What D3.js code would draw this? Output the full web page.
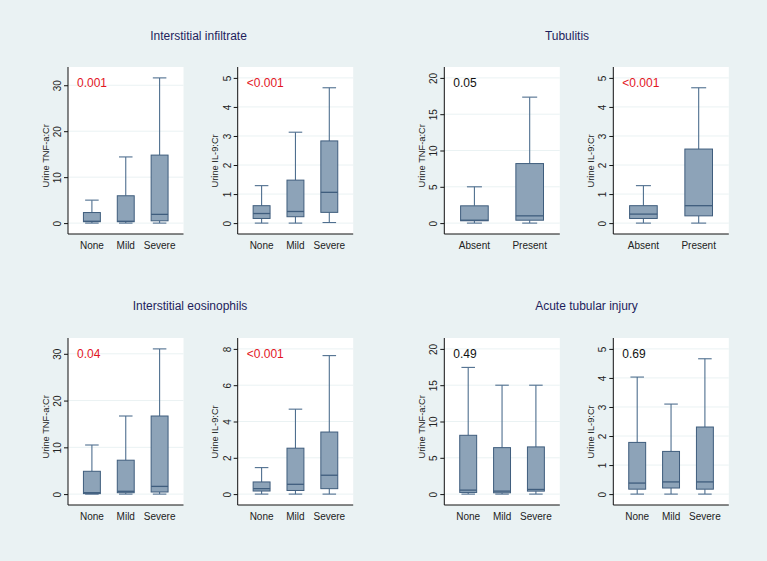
<!DOCTYPE html>
<html>
<head>
<meta charset="utf-8">
<script src="https://cdn.jsdelivr.net/npm/d3@7"></script>
<style>
  html, body { margin: 0; padding: 0; background: #eaf2f3; }
  svg { display: block; font-family: "Liberation Sans", Arial, sans-serif; }
</style>
</head>
<body>
<svg id="chart" width="767" height="561"></svg>
<script>
// ---------------- DATA ----------------
const panelTitles = ["Interstitial infiltrate", "Tubulitis", "Interstitial eosinophils", "Acute tubular injury"];
const severityGroups = ["None", "Mild", "Severe"];
const presenceGroups = ["Absent", "Present"];
const measureLabels = ["Urine TNF-a:Cr", "Urine IL-9:Cr"];

const ticksTnf30 = [0, 10, 20, 30];
const ticksTnf20 = [0, 5, 10, 15, 20];
const ticksIl9_5 = [0, 1, 2, 3, 4, 5];
const ticksIl9_8 = [0, 2, 4, 6, 8];

const pValues = ["0.001", "<0.001", "0.05", "<0.001", "0.04", "<0.001", "0.49", "0.69"];

// Interstitial infiltrate – TNF-a
const infTnfLow  = [0, 0, 0];
const infTnfQ1   = [0.3, 0.3, 0.5];
const infTnfMed  = [0.4, 0.4, 1.9];
const infTnfQ3   = [2.3, 5.95, 14.8];
const infTnfHigh = [5.0, 14.4, 31.6];
// Interstitial infiltrate – IL-9
const infIl9Low  = [0, 0, 0.02];
const infIl9Q1   = [0.16, 0.22, 0.37];
const infIl9Med  = [0.33, 0.40, 1.06];
const infIl9Q3   = [0.60, 1.48, 2.83];
const infIl9High = [1.29, 3.13, 4.66];
// Tubulitis – TNF-a
const tubTnfLow  = [0, 0];
const tubTnfQ1   = [0.32, 0.4];
const tubTnfMed  = [0.4, 1.0];
const tubTnfQ3   = [2.38, 8.2];
const tubTnfHigh = [5.0, 17.35];
// Tubulitis – IL-9
const tubIl9Low  = [0, 0];
const tubIl9Q1   = [0.16, 0.25];
const tubIl9Med  = [0.31, 0.6];
const tubIl9Q3   = [0.6, 2.55];
const tubIl9High = [1.29, 4.66];
// Interstitial eosinophils – TNF-a
const eosTnfLow  = [0, 0, 0];
const eosTnfQ1   = [0.1, 0.3, 0.45];
const eosTnfMed  = [0.3, 0.6, 1.65];
const eosTnfQ3   = [4.88, 7.25, 16.7];
const eosTnfHigh = [10.5, 16.7, 31.05];
// Interstitial eosinophils – IL-9
const eosIl9Low  = [0, 0, 0];
const eosIl9Q1   = [0.17, 0.2, 0.3];
const eosIl9Med  = [0.3, 0.54, 1.04];
const eosIl9Q3   = [0.67, 2.53, 3.42];
const eosIl9High = [1.46, 4.68, 7.63];
// Acute tubular injury – TNF-a
const atiTnfLow  = [0, 0, 0];
const atiTnfQ1   = [0.23, 0.18, 0.41];
const atiTnfMed  = [0.55, 0.41, 0.64];
const atiTnfQ3   = [8.1, 6.4, 6.5];
const atiTnfHigh = [17.45, 15.0, 15.0];
// Acute tubular injury – IL-9
const atiIl9Low  = [0, 0, 0];
const atiIl9Q1   = [0.17, 0.21, 0.17];
const atiIl9Med  = [0.38, 0.42, 0.42];
const atiIl9Q3   = [1.78, 1.47, 2.31];
const atiIl9High = [4.03, 3.1, 4.66];

// ---------------- BUILD ----------------
function stats(groups, lo, q1, med, q3, hi) {
  return groups.map((g, i) => ({ group: g, lo: lo[i], q1: q1[i], med: med[i], q3: q3[i], hi: hi[i] }));
}
const panels = [
  { groups: severityGroups, measure: measureLabels[0], ticks: ticksTnf30, p: pValues[0], data: stats(severityGroups, infTnfLow, infTnfQ1, infTnfMed, infTnfQ3, infTnfHigh) },
  { groups: severityGroups, measure: measureLabels[1], ticks: ticksIl9_5, p: pValues[1], data: stats(severityGroups, infIl9Low, infIl9Q1, infIl9Med, infIl9Q3, infIl9High) },
  { groups: presenceGroups, measure: measureLabels[0], ticks: ticksTnf20, p: pValues[2], data: stats(presenceGroups, tubTnfLow, tubTnfQ1, tubTnfMed, tubTnfQ3, tubTnfHigh) },
  { groups: presenceGroups, measure: measureLabels[1], ticks: ticksIl9_5, p: pValues[3], data: stats(presenceGroups, tubIl9Low, tubIl9Q1, tubIl9Med, tubIl9Q3, tubIl9High) },
  { groups: severityGroups, measure: measureLabels[0], ticks: ticksTnf30, p: pValues[4], data: stats(severityGroups, eosTnfLow, eosTnfQ1, eosTnfMed, eosTnfQ3, eosTnfHigh) },
  { groups: severityGroups, measure: measureLabels[1], ticks: ticksIl9_8, p: pValues[5], data: stats(severityGroups, eosIl9Low, eosIl9Q1, eosIl9Med, eosIl9Q3, eosIl9High) },
  { groups: severityGroups, measure: measureLabels[0], ticks: ticksTnf20, p: pValues[6], data: stats(severityGroups, atiTnfLow, atiTnfQ1, atiTnfMed, atiTnfQ3, atiTnfHigh) },
  { groups: severityGroups, measure: measureLabels[1], ticks: ticksIl9_5, p: pValues[7], data: stats(severityGroups, atiIl9Low, atiIl9Q1, atiIl9Med, atiIl9Q3, atiIl9High) },
];

const svg = d3.select("#chart");
svg.append("rect").attr("width", 767).attr("height", 561).attr("fill", "#eaf2f3");

const colLefts = [68, 237.7, 444.3, 613.3];
const rowTops = [67, 338];
const plotW = 115.5, plotH = 167;
const titlePos = [[198.5, 40], [567, 40], [190, 310], [586.5, 310]];

const BOX_FILL = "#8da3b8", BOX_STROKE = "#3f5d7d", WHISK = "#4f6f8f";

panelTitles.forEach((t, i) => {
  svg.append("text").attr("x", titlePos[i][0]).attr("y", titlePos[i][1])
    .attr("text-anchor", "middle").attr("font-size", 12).attr("fill", "#1e1e5c").text(t);
});

panels.forEach((pn, idx) => {
  const row = Math.floor(idx / 4), col = idx % 4;
  const left = colLefts[col], top = rowTops[row];
  const g = svg.append("g").attr("transform", `translate(${left},${top})`);

  const hiVal = Math.max(d3.max(pn.ticks), d3.max(pn.data, d => d.hi));
  const loVal = Math.min(0, d3.min(pn.data, d => d.lo));
  const span = hiVal - loVal;
  const y = d3.scaleLinear().domain([loVal - 0.075 * span, hiVal + 0.075 * span]).range([plotH, 0]);
  const n = pn.groups.length;
  const x = d3.scaleBand().domain(pn.groups).range([0, plotW])
    .paddingInner(0.5).paddingOuter(n === 3 ? 0.456 : 0.295);

  // plot region
  g.append("rect").attr("width", plotW).attr("height", plotH).attr("fill", "#ffffff");
  // grid
  g.selectAll(".grid").data(pn.ticks).join("line")
    .attr("x1", 0).attr("x2", plotW).attr("y1", d => y(d)).attr("y2", d => y(d))
    .attr("stroke", "#eaf2f3").attr("stroke-width", 1);

  // boxes
  const bw = x.bandwidth();
  const cap = Math.min(bw * 0.8, 15);
  const bg = g.selectAll(".box").data(pn.data).join("g")
    .attr("transform", d => `translate(${x(d.group) + bw / 2},0)`);
  bg.append("line").attr("x1", 0).attr("x2", 0).attr("y1", d => y(d.q3)).attr("y2", d => y(d.hi))
    .attr("stroke", WHISK).attr("stroke-width", 1.1);
  bg.append("line").attr("x1", 0).attr("x2", 0).attr("y1", d => y(d.q1)).attr("y2", d => y(d.lo))
    .attr("stroke", WHISK).attr("stroke-width", 1.1);
  bg.append("line").attr("x1", -cap / 2).attr("x2", cap / 2).attr("y1", d => y(d.hi)).attr("y2", d => y(d.hi))
    .attr("stroke", WHISK).attr("stroke-width", 1.1);
  bg.append("line").attr("x1", -cap / 2).attr("x2", cap / 2).attr("y1", d => y(d.lo)).attr("y2", d => y(d.lo))
    .attr("stroke", WHISK).attr("stroke-width", 1.1);
  bg.append("rect").attr("x", -bw / 2).attr("width", bw)
    .attr("y", d => y(d.q3)).attr("height", d => y(d.q1) - y(d.q3))
    .attr("fill", BOX_FILL).attr("stroke", BOX_STROKE).attr("stroke-width", 1);
  bg.append("line").attr("x1", -bw / 2).attr("x2", bw / 2).attr("y1", d => y(d.med)).attr("y2", d => y(d.med))
    .attr("stroke", BOX_STROKE).attr("stroke-width", 1.3);

  // y axis
  const yAxis = g.append("g").call(d3.axisLeft(y).tickValues(pn.ticks).tickSize(4).tickSizeOuter(0).tickFormat(d3.format("d")));
  yAxis.select(".domain").attr("stroke", "#111").attr("d", `M0,0V${plotH}`);
  yAxis.selectAll(".tick line").attr("stroke", "#111");
  yAxis.selectAll(".tick text")
    .attr("x", null).attr("dy", null)
    .attr("transform", "translate(-7,0) rotate(-90)")
    .attr("text-anchor", "middle").attr("font-size", 10).attr("fill", "#222")
    .attr("font-family", "Liberation Sans, Arial, sans-serif");

  // x axis (no ticks)
  const xAxis = g.append("g").attr("transform", `translate(0,${plotH})`)
    .call(d3.axisBottom(x).tickSize(0).tickPadding(8));
  xAxis.select(".domain").attr("stroke", "#111").attr("d", `M0,0H${plotW}`);
  xAxis.selectAll(".tick text").attr("font-size", 10).attr("fill", "#222")
    .attr("font-family", "Liberation Sans, Arial, sans-serif");

  // y title
  g.append("text").attr("transform", `translate(-19.5,${plotH / 2 + 37}) rotate(-90)`)
    .attr("text-anchor", "start").attr("font-size", 9.3).attr("fill", "#222").text(pn.measure);

  // p value
  const sig = pn.p.startsWith("<") || parseFloat(pn.p) < 0.05;
  g.append("text").attr("x", 9).attr("y", 20).attr("font-size", 12)
    .attr("fill", sig ? "#e3161f" : "#111").text(pn.p);
});
</script>
</body>
</html>
